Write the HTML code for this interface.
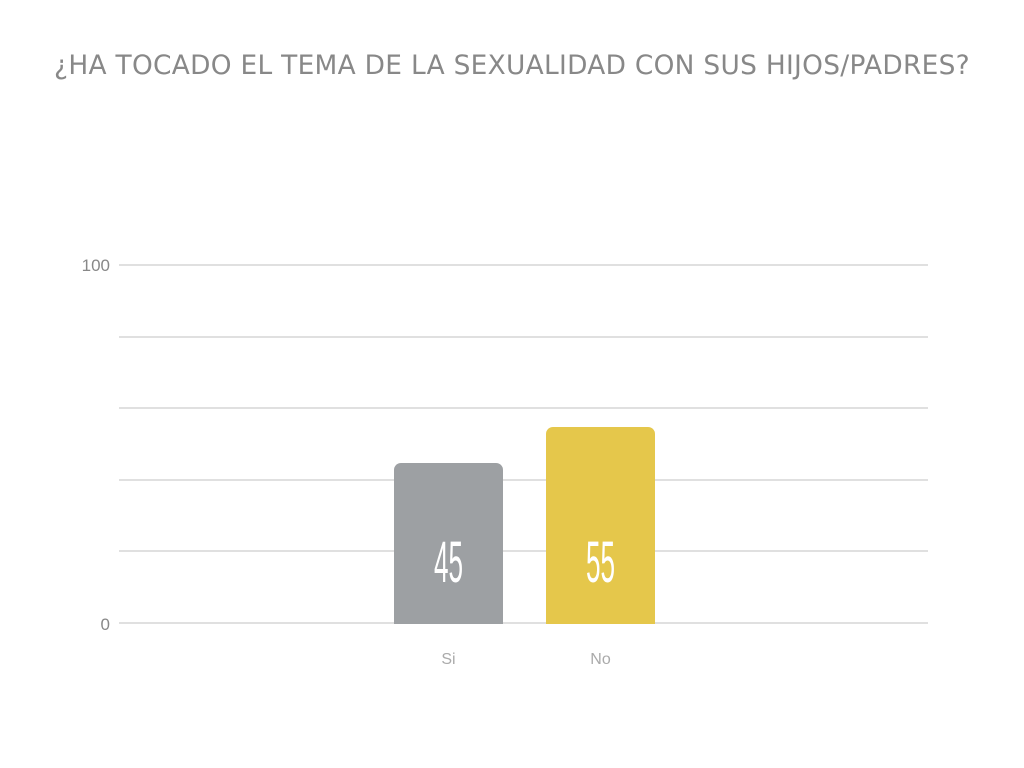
<!DOCTYPE html>
<html><head><style>
body{margin:0;width:1024px;height:768px;background:#fff;position:relative;overflow:hidden;font-family:"Liberation Sans",sans-serif}
.t{position:absolute;top:50px;left:0;width:1024px;text-align:center;font-family:"DejaVu Sans",sans-serif;font-size:26.4px;color:#888;letter-spacing:0.3px;white-space:nowrap}
.g{position:absolute;left:119px;width:809px;height:2px;background:#e0e0e0}
.y{position:absolute;width:110px;left:0;text-align:right;font-size:17px;color:#888}
.b{position:absolute;width:109px;border-radius:7px 7px 0 0}
.v{position:absolute;width:109px;text-align:center;top:534px;color:#fff;font-size:58px;line-height:58px;transform:scaleX(0.45);transform-origin:center;font-weight:300}
.x{position:absolute;width:109px;text-align:center;top:651px;font-size:16px;color:#aaa}
</style></head><body>
<div class="t">¿HA TOCADO EL TEMA DE LA SEXUALIDAD CON SUS HIJOS/PADRES?</div>
<div class="g" style="top:264px"></div>
<div class="g" style="top:336px"></div>
<div class="g" style="top:407px"></div>
<div class="g" style="top:479px"></div>
<div class="g" style="top:550px"></div>
<div class="g" style="top:622px"></div>
<div class="y" style="top:256px">100</div>
<div class="y" style="top:615px">0</div>
<div class="b" style="left:394px;top:463px;height:161px;background:#9da0a3"></div>
<div class="b" style="left:546px;top:427px;height:197px;background:#e5c74b"></div>
<div class="v" style="left:394px">45</div>
<div class="v" style="left:546px">55</div>
<div class="x" style="left:394px">Si</div>
<div class="x" style="left:546px">No</div>
</body></html>
